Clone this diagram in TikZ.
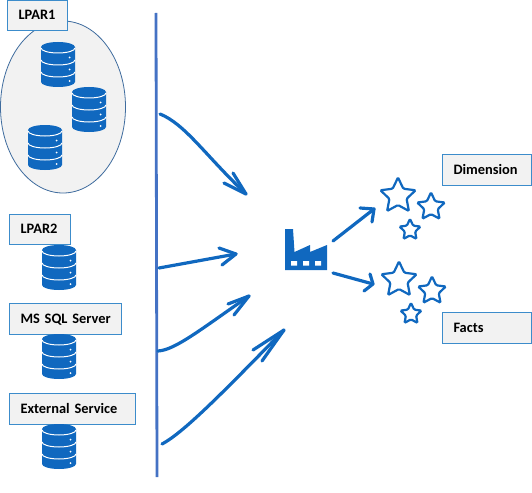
\documentclass[tikz,border=0pt]{standalone}
\usepackage{fontspec}
\setmainfont{Carlito}
\usetikzlibrary{shapes.geometric}
\definecolor{iconblue}{HTML}{1068BF}
\definecolor{barblue}{HTML}{4472C4}
\definecolor{labelfill}{HTML}{F2F2F2}
\definecolor{labeledge}{HTML}{3C8CCB}
\definecolor{ovaledge}{HTML}{3F6C9E}
\tikzset{
  x=1pt,y=-1pt,
  label box/.style={draw=labeledge,line width=1pt,fill=labelfill,inner xsep=11pt,inner ysep=0pt,anchor=north west,
    font=\bfseries\fontsize{14.4}{16}\selectfont,text=black,align=left,text height=10.5pt,text depth=2pt},
  bar/.style={draw=barblue,line width=2.8pt},
  flow/.style={draw=iconblue,line width=3.2pt,line cap=round,line join=round},
  staricon/.style={star,star points=5,star point ratio=2.05,draw=iconblue,line width=2.2pt,
    rounded corners=1.2pt,inner sep=0pt,fill=white},
  pics/dbicon/.style={code={
    \fill[iconblue] (0,5) arc[x radius=17,y radius=5,start angle=180,end angle=360]
       -- (34,40) arc[x radius=17,y radius=5,start angle=0,end angle=180] -- cycle;
    \draw[white,line width=1pt] (0,6) arc[x radius=17,y radius=5,start angle=180,end angle=0];
    \draw[white,line width=1pt] (0,18) arc[x radius=17,y radius=5,start angle=180,end angle=0];
    \draw[white,line width=1pt] (0,30) arc[x radius=17,y radius=5,start angle=180,end angle=0];
    \fill[white] (28.5,15.5) circle[radius=1] (28.5,27.5) circle[radius=1] (28.5,39) circle[radius=1];
  }}
}
\begin{document}
\begin{tikzpicture}
\useasboundingbox (0,0) rectangle (532,492);
% oval
\node[ellipse,draw=ovaledge,line width=0.8pt,fill=labelfill,minimum width=125pt,minimum height=172pt,inner sep=0pt] (oval) at (63,107) {};
% labels
\node[label box,minimum width=60pt,minimum height=30pt,text width=38pt] (lpar1) at (7,0) {LPAR1};
\node[label box,minimum width=61pt,minimum height=30pt,text width=39pt] (lpar2) at (9,214) {LPAR2};
\node[label box,minimum width=112pt,minimum height=31pt,text width=90pt] (mssql) at (9,303) {\mbox{MS SQL Server}};
\node[label box,minimum width=126pt,minimum height=31pt,text width=104pt] (extern) at (9,393) {\mbox{External Service}};
\node[label box,minimum width=89pt,minimum height=31pt,text width=67pt] (dimension) at (442,154) {Dimension};
\node[label box,minimum width=89pt,minimum height=31pt,text width=67pt] (facts) at (442,312) {Facts};
% databases
\pic at (41,42) {dbicon};
\pic at (72,87) {dbicon};
\pic at (28,125) {dbicon};
\pic at (42,245) {dbicon};
\pic at (42,334) {dbicon};
\pic at (42,424) {dbicon};
% bar
\coordinate (bartop) at (156,13);
\coordinate (barbot) at (157,477);
\draw[bar] (bartop) -- (barbot);
% factory
\fill[iconblue] (285,229) -- (293,229) -- (294.5,252) -- (310,245) -- (310,252) -- (327,245) -- (327,270) -- (285,270) -- cycle;
\fill[white] (291,261) rectangle (297,265.5) (303,261) rectangle (309,265.5) (315,261) rectangle (321,265.5);
\node[minimum width=42pt,minimum height=41pt,inner sep=0pt] (factory) at (306,249.5) {};
% stars
\node[staricon,minimum size=37pt] (s1) at (398,196) {};
\node[staricon,minimum size=29pt] (s2) at (431,207) {};
\node[staricon,minimum size=22pt] (s3) at (410,230) {};
\node[staricon,minimum size=37pt] (s4) at (399,280) {};
\node[staricon,minimum size=29pt] (s5) at (432,291) {};
\node[staricon,minimum size=22pt] (s6) at (411,314) {};
% arrows
\coordinate (a1s) at (160,114); \coordinate (a1t) at (246,194);
\coordinate (a1b) at (233,173); \coordinate (a1c) at (224,183);
\draw[flow] (a1s) .. controls (185,124) and (205,155) .. (a1t);
\draw[flow] (a1b) -- (a1t) -- (a1c);
\coordinate (a2s) at (159,268); \coordinate (a2t) at (236,254);
\coordinate (a2b) at (219,248); \coordinate (a2c) at (222,265);
\draw[flow] (a2s) -- (a2t);
\draw[flow] (a2b) -- (a2t) -- (a2c);
\coordinate (a3s) at (158,351); \coordinate (a3t) at (249,296);
\coordinate (a3b) at (228,304); \coordinate (a3c) at (234,315);
\draw[flow] (a3s) .. controls (175,350) and (200,330) .. (a3t);
\draw[flow] (a3b) -- (a3t) -- (a3c);
\coordinate (a4s) at (162,444); \coordinate (a4t) at (284,330);
\coordinate (a4b) at (253,350); \coordinate (a4c) at (262,361);
\draw[flow] (a4s) .. controls (185,432) and (230,385) .. (a4t);
\draw[flow] (a4b) -- (a4t) -- (a4c);
\coordinate (a5s) at (333,241); \coordinate (a5t) at (374,209);
\coordinate (a5b) at (360,208); \coordinate (a5c) at (372,222);
\draw[flow] (a5s) -- (a5t);
\draw[flow] (a5b) -- (a5t) -- (a5c);
\coordinate (a6s) at (333,273); \coordinate (a6t) at (373,284);
\coordinate (a6b) at (370,274); \coordinate (a6c) at (364,291);
\draw[flow] (a6s) -- (a6t);
\draw[flow] (a6b) -- (a6t) -- (a6c);
\end{tikzpicture}
\end{document}
